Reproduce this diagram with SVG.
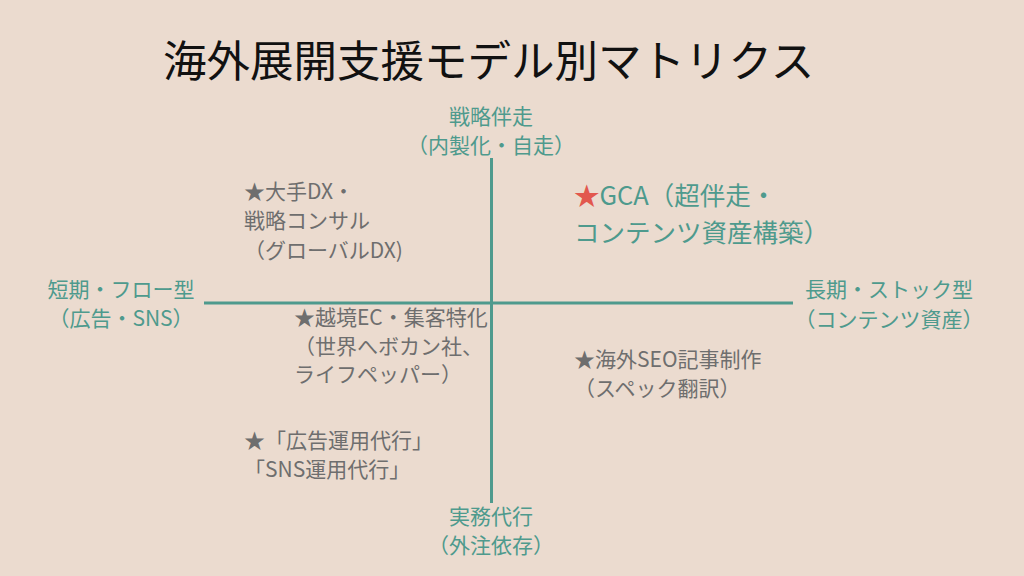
<svg xmlns="http://www.w3.org/2000/svg" width="1024" height="576" viewBox="0 0 1024 576">
<style>
text{font-family:"Noto Sans CJK JP","Noto Sans",sans-serif}
.title{font-size:43.5px;fill:#111111}
.axis{font-size:21px;fill:#4E9A8D;text-anchor:middle}
.item{font-size:21px;fill:#6E6E6E}
.gca{font-size:25.5px;fill:#4E9A8D}
.star{fill:#E2584E}
.line{stroke:#4E9A8D;stroke-width:3;fill:none}
</style>
<rect width="1024" height="576" fill="#EBDBCF"/>
<text class="title" x="163" y="77">海外展開支援モデル別マトリクス</text>
<g id="connectors">
<line class="line" x1="491.5" y1="158" x2="491.5" y2="503"/>
<line class="line" x1="204" y1="303" x2="793" y2="303"/>
</g>
<g id="axis-top">
<text class="axis" x="491" y="124">戦略伴走</text>
<text class="axis" x="491" y="153">（内製化・自走）</text>
</g>
<g id="axis-bottom">
<text class="axis" x="491" y="524">実務代行</text>
<text class="axis" x="491" y="553">（外注依存）</text>
</g>
<g id="axis-left">
<text class="axis" x="121" y="297">短期・フロー型</text>
<text class="axis" x="121" y="326">（広告・SNS）</text>
</g>
<g id="axis-right">
<text class="axis" x="889" y="297">長期・ストック型</text>
<text class="axis" x="889" y="327">（コンテンツ資産）</text>
</g>
<g id="node-gca">
<text class="gca" x="574" y="205"><tspan class="star">★</tspan>GCA（超伴走・</text>
<text class="gca" x="574" y="242">コンテンツ資産構築）</text>
</g>
<g id="node-dx">
<text class="item" x="244" y="199">★大手DX・</text>
<text class="item" x="244" y="228">戦略コンサル</text>
<text class="item" x="244" y="258">（グローバルDX)</text>
</g>
<g id="node-ec">
<text class="item" x="294" y="325">★越境EC・集客特化</text>
<text class="item" x="294" y="354">（世界へボカン社、</text>
<text class="item" x="294" y="382">ライフペッパー）</text>
</g>
<g id="node-seo">
<text class="item" x="574" y="367">★海外SEO記事制作</text>
<text class="item" x="574" y="396">（スペック翻訳）</text>
</g>
<g id="node-ads">
<text class="item" x="244" y="448">★「広告運用代行」</text>
<text class="item" x="244" y="477">「SNS運用代行」</text>
</g>
</svg>
